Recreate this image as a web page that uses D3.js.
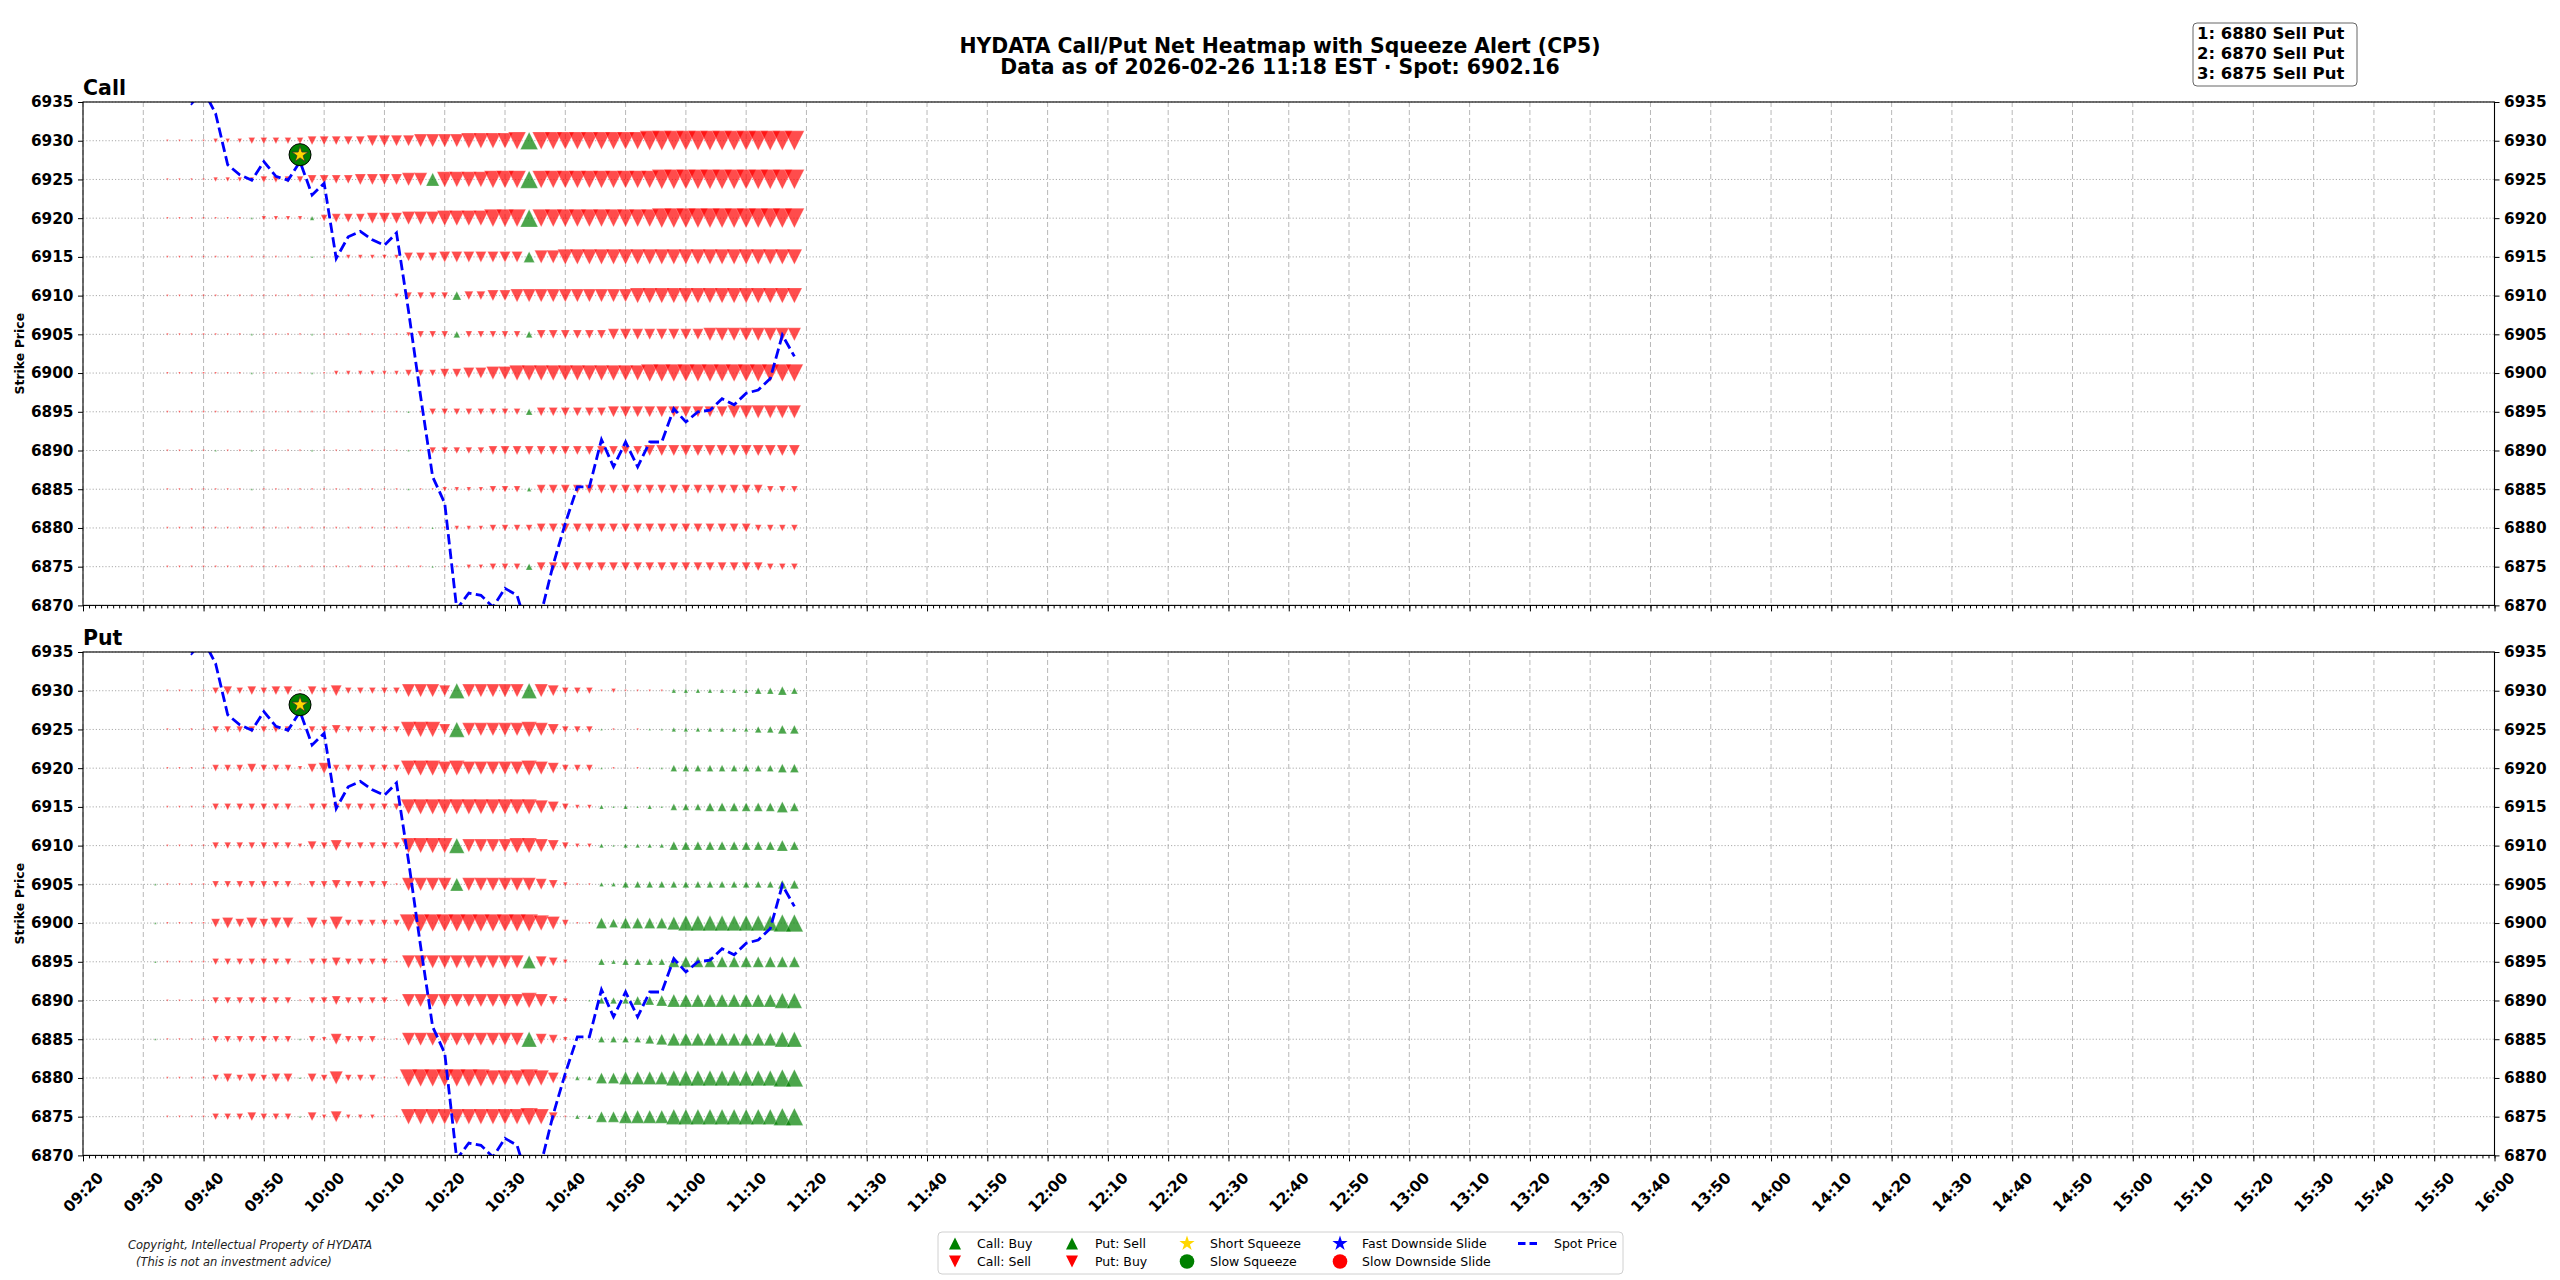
<!DOCTYPE html>
<html lang="en">
<head>
  <meta charset="UTF-8">
  <title>HYDATA Call/Put Net Heatmap</title>
  <script src="https://cdn.jsdelivr.net/npm/d3@7"></script>
  <style>
    body { margin: 0; background: #fff; }
    svg { font-family: "DejaVu Sans", sans-serif; }
  </style>
</head>
<body>
<svg id="chart" width="2560" height="1280"></svg>
<script>
  // 2-minute snapshots
  const times = [
    '09:32','09:34','09:36','09:38','09:40','09:42','09:44','09:46','09:48','09:50',
    '09:52','09:54','09:56','09:58','10:00','10:02','10:04','10:06','10:08','10:10',
    '10:12','10:14','10:16','10:18','10:20','10:22','10:24','10:26','10:28','10:30',
    '10:32','10:34','10:36','10:38','10:40','10:42','10:44','10:46','10:48','10:50',
    '10:52','10:54','10:56','10:58','11:00','11:02','11:04','11:06','11:08','11:10',
    '11:12','11:14','11:16','11:18'
  ];
  const strikes = [6930, 6925, 6920, 6915, 6910, 6905, 6900, 6895, 6890, 6885, 6880, 6875];

  // one char per snapshot: '.' nothing, '1'-'9' red down triangle, 'A'-'I' green up triangle (size level)
  const callRows = [
    '.111122233 3334444455 5566667777 8H88888888 8999999999 9999',
    '.111122223 3334444555 566F777788 8H88888888 8899999999 9999',
    '.1111111A2 222B344455 5666777788 8H88888888 8899999999 9999',
    '.111111111 111A122222 2444555555 5E66777777 7777777777 7777',
    '.111111111 1111111111 23333D4455 6666666666 7777777777 7777',
    '.1111111A1 111A111111 12333C3333 3C44444455 5555556666 6666',
    '.1111111A1 111A122222 2333445566 7777777777 7888888888 8888',
    '.111111111 1111111111 1A13333333 3C44444455 5555555566 6666',
    '.1111A11A1 111A111111 1A13333344 4444444444 4555555555 5555',
    '.1111111A1 1111111111 1A11222233 3B44444444 4444444444 4333',
    '.111111111 1111111111 111A122233 3344444444 4444444444 3333',
    '.111111111 1111111111 111A112233 3C44444444 4444444444 4333'
  ];
  const putRows = [
    '.111134343 4414353333 36665G6666 6G65333121 111BBBBBBB CCDC',
    '.111133333 3313343333 37775G6666 6765333A1. 1AABBBBBBB CCDD',
    '.111133343 3324533333 3777676666 6765333A1. 1AACCCCCCC CCDD',
    '.111133333 3313333333 3777777777 7765322BAB ABACCCDDDD DDED',
    '.111133333 3324353333 37777G6666 7765322BAB BBBDDDDDDD DDED',
    'A111133333 3313343333 16666F6666 6654211BBC CCCCCCCCCC CCDD',
    'A111145454 5515363333 3888888888 8876311EDE EEEFGGGGGG GGHH',
    'A111133333 3313343333 1666666666 6F542..CBC CCCEEEEEEE EEEE',
    '.111133333 3313343333 1666666666 67642.ACCC DDEFFFFFFF FFGG',
    'A111133333 33A3253331 1666666666 6G542..CCC CDEFFFFFFF FFGG',
    '.111134343 44A4363331 1888888877 78752BBEEF FFFGGGGGGG GGHH',
    '.111133343 33A4252221 1777777777 78741BBEEF FFFGGGGGGG GGHH'
  ];

  const spot = [
    6938.0, 6937.5, 6936.2, 6934.8, 6936.5, 6933.5, 6926.9, 6925.6, 6924.9, 6927.3,
    6925.4, 6924.9, 6927.3, 6923.0, 6924.5, 6914.8, 6917.6, 6918.3, 6917.2, 6916.5,
    6918.1, 6908.0, 6897.0, 6886.6, 6883.2, 6869.5, 6871.6, 6871.3, 6869.8, 6872.2,
    6871.3, 6866.3, 6869.0, 6875.3, 6880.6, 6885.3, 6885.3, 6891.4, 6887.9, 6891.1,
    6887.9, 6891.1, 6891.1, 6895.4, 6893.7, 6895.0, 6895.2, 6896.7, 6895.9, 6897.4,
    6897.8, 6899.3, 6904.9, 6902.16
  ];

  // squeeze alerts (short squeeze star on slow squeeze circle)
  const alertTimes = ['09:56'];
  const alertPrices = [6928.2];

  const topList = ['1: 6880 Sell Put', '2: 6870 Sell Put', '3: 6875 Sell Put'];

  const xTickLabels = [
    '09:20','09:30','09:40','09:50','10:00','10:10','10:20','10:30','10:40','10:50',
    '11:00','11:10','11:20','11:30','11:40','11:50','12:00','12:10','12:20','12:30',
    '12:40','12:50','13:00','13:10','13:20','13:30','13:40','13:50','14:00','14:10',
    '14:20','14:30','14:40','14:50','15:00','15:10','15:20','15:30','15:40','15:50','16:00'
  ];
  const yTickLabels = [6870, 6875, 6880, 6885, 6890, 6895, 6900, 6905, 6910, 6915, 6920, 6925, 6930, 6935];

  const svg = d3.select('#chart');
  const parseTime = d3.timeParse('%H:%M');
  const left = 83, right = 2494.5;

  const x = d3.scaleTime()
    .domain([parseTime('09:20'), parseTime('16:00')])
    .range([left, right]);
  const side = d3.scaleLinear().domain([0, 9]).range([0, 19.8]);

  const triPath = (s, up) => up
    ? `M${-s / 2},${s / 2}L${s / 2},${s / 2}L0,${-s / 2}Z`
    : `M${-s / 2},${-s / 2}L${s / 2},${-s / 2}L0,${s / 2}Z`;

  const decode = ch => {
    if (ch >= '1' && ch <= '9') return { up: false, level: +ch };
    if (ch >= 'A' && ch <= 'I') return { up: true, level: ch.charCodeAt(0) - 64 };
    return null;
  };

  const panels = [
    { name: 'Call', top: 102, bottom: 605.4, rows: callRows },
    { name: 'Put', top: 652, bottom: 1155.4, rows: putRows }
  ];

  panels.forEach((p, pi) => {
    const y = d3.scaleLinear().domain([6870, 6935]).range([p.bottom, p.top]);
    const g = svg.append('g');

    svg.append('clipPath').attr('id', 'clip' + pi)
      .append('rect')
        .attr('x', left).attr('y', p.top)
        .attr('width', right - left).attr('height', p.bottom - p.top);

    // grid
    g.append('g').selectAll('line').data(xTickLabels).join('line')
      .attr('x1', d => x(parseTime(d))).attr('x2', d => x(parseTime(d)))
      .attr('y1', p.top).attr('y2', p.bottom)
      .attr('stroke', '#b8b8b8').attr('stroke-width', 1)
      .attr('stroke-dasharray', '5,3');
    g.append('g').selectAll('line').data(yTickLabels).join('line')
      .attr('x1', left).attr('x2', right)
      .attr('y1', d => y(d)).attr('y2', d => y(d))
      .attr('stroke', '#aaa').attr('stroke-width', 1)
      .attr('stroke-dasharray', '1.2,2');

    // markers
    const cells = [];
    p.rows.forEach((row, ri) => {
      const r = row.replace(/ /g, '');
      times.forEach((t, k) => {
        const c = decode(r[k]);
        if (c) cells.push({ t, strike: strikes[ri], up: c.up, level: c.level });
      });
    });
    cells.sort((a, b) => a.up - b.up);
    g.append('g').selectAll('path').data(cells).join('path')
      .attr('transform', d => `translate(${x(parseTime(d.t))},${y(d.strike)})`)
      .attr('d', d => triPath(side(d.level), d.up))
      .attr('fill', d => d.up ? '#008000' : '#ff0000')
      .attr('fill-opacity', 0.7)
      .attr('stroke', '#fff').attr('stroke-width', 0.5).attr('stroke-opacity', 0.5);

    // spot price
    const line = d3.line()
      .x((d, i) => x(parseTime(times[i])))
      .y(d => y(d));
    g.append('path')
      .attr('clip-path', `url(#clip${pi})`)
      .attr('d', line(spot))
      .attr('fill', 'none')
      .attr('stroke', '#0000ff').attr('stroke-width', 2.8)
      .attr('stroke-dasharray', '10.3,4.4');

    // squeeze alert
    const alerts = alertTimes.map((t, i) => ({ t, v: alertPrices[i] }));
    const ag = g.append('g').selectAll('g').data(alerts).join('g')
      .attr('transform', d => `translate(${x(parseTime(d.t))},${y(d.v)})`);
    ag.append('circle').attr('r', 11)
      .attr('fill', '#008000').attr('stroke', '#000').attr('stroke-width', 1);
    ag.append('path').attr('d', d3.symbol(d3.symbolStar).size(80)())
      .attr('fill', '#FFD700').attr('stroke', '#333').attr('stroke-width', 0.8);

    // frame
    g.append('rect')
      .attr('x', left).attr('y', p.top)
      .attr('width', right - left).attr('height', p.bottom - p.top)
      .attr('fill', 'none').attr('stroke', '#000').attr('stroke-width', 1.1);

    // axes
    const minor = g.append('g')
      .attr('transform', `translate(0,${p.bottom})`)
      .call(d3.axisBottom(x).ticks(d3.timeMinute.every(1)).tickSize(3).tickFormat(''));
    minor.select('.domain').remove();

    const major = g.append('g')
      .attr('transform', `translate(0,${p.bottom})`)
      .call(d3.axisBottom(x)
        .tickValues(xTickLabels.map(parseTime))
        .tickSize(6)
        .tickFormat(pi === 1 ? d3.timeFormat('%H:%M') : () => ''));
    major.select('.domain').remove();
    major.selectAll('text')
      .attr('font-family', '"DejaVu Sans", sans-serif')
      .attr('font-size', 15.3).attr('font-weight', 'bold').attr('fill', '#000')
      .attr('y', 0).attr('dy', null)
      .attr('dominant-baseline', 'central')
      .attr('text-anchor', 'middle')
      .attr('transform', 'translate(0,37) rotate(-45)');

    const fmt = d3.format('d');
    const yl = g.append('g')
      .attr('transform', `translate(${left},0)`)
      .call(d3.axisLeft(y).tickValues(yTickLabels).tickFormat(fmt).tickSize(5).tickPadding(4.5));
    const yr = g.append('g')
      .attr('transform', `translate(${right},0)`)
      .call(d3.axisRight(y).tickValues(yTickLabels).tickFormat(fmt).tickSize(5).tickPadding(4.5));
    [yl, yr].forEach(a => {
      a.select('.domain').remove();
      a.selectAll('text')
        .attr('font-family', '"DejaVu Sans", sans-serif')
        .attr('font-size', 15.3).attr('font-weight', 'bold').attr('fill', '#000');
    });

    // panel title and axis label
    svg.append('text')
      .attr('x', left).attr('y', p.top - 7)
      .attr('font-size', 20.5).attr('font-weight', 'bold')
      .text(p.name);
    svg.append('text')
      .attr('transform', `translate(24,${(p.top + p.bottom) / 2}) rotate(-90)`)
      .attr('text-anchor', 'middle')
      .attr('font-size', 12.5).attr('font-weight', 'bold')
      .text('Strike Price');
  });

  // figure title
  svg.append('text')
    .attr('x', 1280).attr('y', 52.5)
    .attr('text-anchor', 'middle')
    .attr('font-size', 20.4).attr('font-weight', 'bold')
    .text('HYDATA Call/Put Net Heatmap with Squeeze Alert (CP5)');
  svg.append('text')
    .attr('x', 1280).attr('y', 73.5)
    .attr('text-anchor', 'middle')
    .attr('font-size', 20.4).attr('font-weight', 'bold')
    .text('Data as of 2026-02-26 11:18 EST \u00b7 Spot: 6902.16');

  // top strikes box
  svg.append('rect')
    .attr('x', 2193).attr('y', 23).attr('width', 164).attr('height', 63)
    .attr('rx', 4).attr('fill', '#fff').attr('stroke', '#666').attr('stroke-width', 1);
  svg.append('g').selectAll('text').data(topList).join('text')
    .attr('x', 2197).attr('y', (d, i) => 39.3 + i * 20)
    .attr('font-size', 16.5).attr('font-weight', 'bold')
    .text(d => d);

  // copyright
  svg.append('text')
    .attr('x', 128).attr('y', 1249)
    .attr('font-size', 11.5).attr('font-style', 'italic').attr('fill', '#222')
    .text('Copyright, Intellectual Property of HYDATA');
  svg.append('text')
    .attr('x', 136).attr('y', 1266)
    .attr('font-size', 11.5).attr('font-style', 'italic').attr('fill', '#222')
    .text('(This is not an investment advice)');

  // legend
  const legend = svg.append('g');
  legend.append('rect')
    .attr('x', 938).attr('y', 1232).attr('width', 685).attr('height', 42)
    .attr('rx', 4).attr('fill', '#fff').attr('stroke', '#d0d0d0').attr('stroke-width', 1);
  const legendItems = [
    { label: 'Call: Buy', kind: 'up', color: '#008000', mx: 955, tx: 977, row: 0 },
    { label: 'Call: Sell', kind: 'down', color: '#ff0000', mx: 955, tx: 977, row: 1 },
    { label: 'Put: Sell', kind: 'up', color: '#008000', mx: 1072, tx: 1095, row: 0 },
    { label: 'Put: Buy', kind: 'down', color: '#ff0000', mx: 1072, tx: 1095, row: 1 },
    { label: 'Short Squeeze', kind: 'star', color: '#FFD700', mx: 1187, tx: 1210, row: 0 },
    { label: 'Slow Squeeze', kind: 'circle', color: '#008000', mx: 1187, tx: 1210, row: 1 },
    { label: 'Fast Downside Slide', kind: 'star', color: '#0000ff', mx: 1340, tx: 1362, row: 0 },
    { label: 'Slow Downside Slide', kind: 'circle', color: '#ff0000', mx: 1340, tx: 1362, row: 1 },
    { label: 'Spot Price', kind: 'line', color: '#0000ff', mx: 1529, tx: 1554, row: 0 }
  ];
  const li = legend.selectAll('g').data(legendItems).join('g')
    .attr('transform', d => `translate(0,${d.row === 0 ? 1243.5 : 1261.5})`);
  li.each(function (d) {
    const e = d3.select(this);
    if (d.kind === 'up' || d.kind === 'down') {
      e.append('path').attr('transform', `translate(${d.mx},0)`)
        .attr('d', triPath(12, d.kind === 'up')).attr('fill', d.color);
    } else if (d.kind === 'star') {
      e.append('path').attr('transform', `translate(${d.mx},0)`)
        .attr('d', d3.symbol(d3.symbolStar).size(72)()).attr('fill', d.color);
    } else if (d.kind === 'circle') {
      e.append('circle').attr('cx', d.mx).attr('r', 7.3).attr('fill', d.color);
    } else {
      e.append('line').attr('x1', d.mx - 11).attr('x2', d.mx + 11)
        .attr('stroke', d.color).attr('stroke-width', 2.8).attr('stroke-dasharray', '7.5,4');
    }
    e.append('text').attr('x', d.tx).attr('dy', '0.35em')
      .attr('font-size', 12.5).text(d.label);
  });
</script>
</body>
</html>
